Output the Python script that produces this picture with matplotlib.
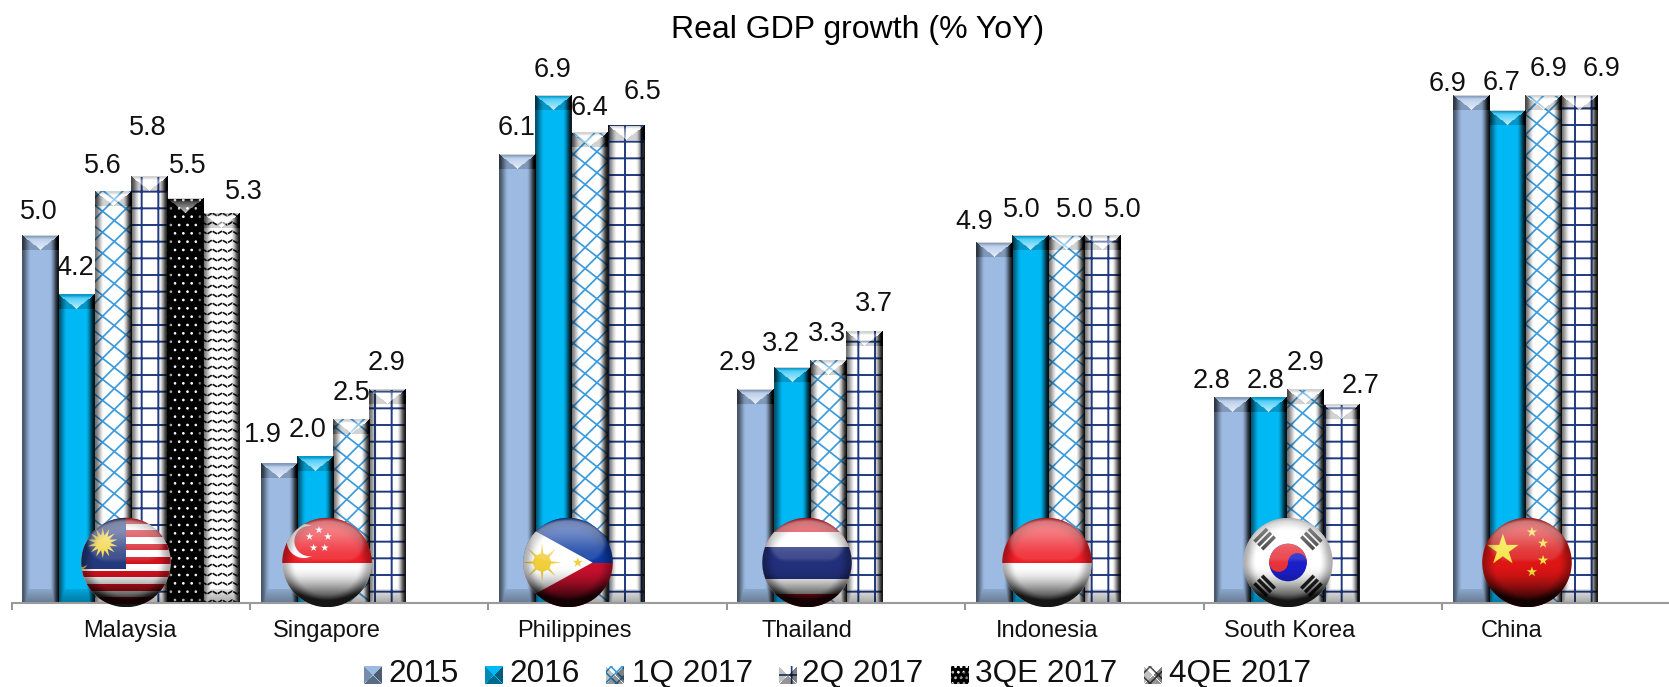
import numpy as np
import matplotlib
matplotlib.use('Agg')
import matplotlib.pyplot as plt
from matplotlib.collections import LineCollection
from matplotlib.patches import Circle, Polygon, Rectangle, Wedge
from matplotlib.transforms import IdentityTransform

plt.rcParams['font.family'] = ['Liberation Sans', 'DejaVu Sans']
nan = float('nan')

categories = ['Malaysia', 'Singapore', 'Philippines', 'Thailand', 'Indonesia', 'South Korea', 'China']
periods = ['2015', '2016', '1Q 2017', '2Q 2017', '3QE 2017', '4QE 2017']
gdp_2015 = [5.0, 1.9, 6.1, 2.9, 4.9, 2.8, 6.9]
gdp_2016 = [4.2, 2.0, 6.9, 3.2, 5.0, 2.8, 6.7]
gdp_1q17 = [5.6, 2.5, 6.4, 3.3, 5.0, 2.9, 6.9]
gdp_2q17 = [5.8, 2.9, 6.5, 3.7, 5.0, 2.7, 6.9]
gdp_3q17 = [5.5, nan, nan, nan, nan, nan, nan]
gdp_4q17 = [5.3, nan, nan, nan, nan, nan, nan]
series = [gdp_2015, gdp_2016, gdp_1q17, gdp_2q17, gdp_3q17, gdp_4q17]

# hand placed value labels, pixel centres, one list per series
labels_2015 = [(39, 212), (263, 435), (517, 128), (737, 363), (974, 222), (1211, 381), (1447, 84)]
labels_2016 = [(75, 268), (307, 430), (552, 70), (781, 344), (1022, 210), (1265, 381), (1502, 83)]
labels_1q17 = [(103, 166), (351, 393), (589, 108), (827, 334), (1075, 210), (1305, 363), (1548, 69)]
labels_2q17 = [(148, 128), (386, 363), (642, 92), (874, 304), (1123, 210), (1361, 386), (1601, 69)]
labels_3q17 = [(188, 166)]
labels_4q17 = [(244, 192)]
label_pos = [labels_2015, labels_2016, labels_1q17, labels_2q17, labels_3q17, labels_4q17]

cat_label_x = [130, 327, 574, 807, 1047, 1290, 1512]
flag_x = [126, 327, 568, 807, 1047, 1288, 1527]
legend_swatch_x = [373, 494, 615, 788, 960, 1153]
legend_text_x = [388, 509, 632, 802, 975, 1169]

W, H = 1669, 687
base_y = 603
unit_h = 73.5
step = 238.4
x_left = 11.6
bar_w = 36.2 / step

base_colors = ['#9cbae2', '#00b8f4', 'white', 'white', 'black', 'white']
BLUE = '#3d9bdc'
NAVY = '#1f3a80'


def smooth(a, b, x):
    t = np.clip((x - a) / (b - a), 0, 1)
    return t * t * (3 - 2 * t)


def bevel_image(w, h):
    # black/white overlay giving the bar its chiselled look
    u, v = np.meshgrid(np.arange(w) + 0.5, np.arange(h) + 0.5)
    mid = w / 2
    left = 0.55 * (1 - smooth(0, 9, u))
    right = 0.9 * (1 - smooth(0, 9, w - u))
    rgb = np.zeros((h, w))
    alpha = left + right

    # bottom facet, a trapezoid narrowing upwards
    bot = h - v
    bottom = (bot < 14) & (np.abs(u - mid) < mid - bot * 0.55)
    alpha = np.where(bottom, np.maximum(alpha, 0.1 + 0.25 * (1 - bot / 14)), alpha)

    # top facet, a V from the two corners
    tip = 15 * (1 - np.abs(u - mid) / mid)
    top = v < tip
    t = np.where(top, v / 15, 0)
    alpha = np.where((v < 15) & ~top, alpha + 0.18, alpha)
    alpha = np.where(top, 0.16 + 0.6 * t, alpha)
    rgb = np.where(top, smooth(0.0, 0.3, t), rgb)

    img = np.zeros((h, w, 4))
    img[..., 0] = img[..., 1] = img[..., 2] = rgb
    img[..., 3] = np.clip(alpha, 0, 1)
    return img


fig = plt.figure(figsize=(W / 100, H / 100), dpi=100)
ax = fig.add_axes([x_left / W, 1 - base_y / H, 1 - x_left / W, (base_y - 60) / H])
ax.set_xlim(0, (W - x_left) / step)
ax.set_ylim(0, (base_y - 60) / unit_h)
ax.autoscale(False)

for s, vals in enumerate(series):
    plt.rcParams['hatch.linewidth'] = 1.4 if s == 3 else 0.7
    for i, val in enumerate(vals):
        if np.isnan(val):
            continue
        x0 = i + 0.5 + (s - 3) * bar_w
        hatch = None
        edge = base_colors[s]
        if s == 3:
            hatch, edge = '+', NAVY
        if s == 4:
            hatch, edge = '..', 'white'
        bar = ax.bar(x0, val, bar_w, align='edge', color=base_colors[s], edgecolor=edge,
                     linewidth=0, hatch=hatch, zorder=2)[0]
        px0, py0 = ax.transData.transform((x0, 0))
        px1, py1 = ax.transData.transform((x0 + bar_w, val))
        if s == 2:
            # diagonal lattice
            segs = []
            for k in np.arange(-py1, py1 + px1, 21.0):
                segs.append([(px0 - 5, k - px0 + 5), (px1 + 5, k - px1 + 5)])
            for k in np.arange(-px1, py1, 21.0):
                segs.append([(px0 - 5, k + px0 - 5), (px1 + 5, k + px1 + 5)])
            lc = LineCollection(segs, colors=BLUE, linewidths=1.25, transform=IdentityTransform(), zorder=2.1)
            ax.add_collection(lc, autolim=False)
            lc.set_clip_path(bar)
        if s == 5:
            # black zigzag rows
            segs = []
            for yy in np.arange(py0, py1, 9.0):
                xs = np.arange(px0 - 6, px1 + 6, 5.0)
                ys = yy + 3.0 * (np.arange(len(xs)) % 2)
                segs.append(np.column_stack([xs, ys]))
            lc = LineCollection(segs, colors='#111111', linewidths=1.2, transform=IdentityTransform(),
                                linestyles=(0, (3, 0.6)), zorder=2.1)
            ax.add_collection(lc, autolim=False)
            lc.set_clip_path(bar)
        ax.imshow(bevel_image(36, int(round(val * unit_h))), extent=(x0, x0 + bar_w, 0, val),
                  aspect='auto', interpolation='bilinear', zorder=2.2)

ax.set_xlim(0, (W - x_left) / step)
ax.set_ylim(0, (base_y - 60) / unit_h)
ax.set_xticks(range(7))
ax.set_xticklabels([])
ax.set_yticks([])
ax.tick_params(axis='x', length=5, width=1.3, color='#8c8c8c')
for side in ['top', 'left', 'right']:
    ax.spines[side].set_visible(False)
ax.spines['bottom'].set_color('#9a9a9a')
ax.spines['bottom'].set_linewidth(1.5)
ax.patch.set_alpha(0)

# pixel space layer for flags, text and legend
over = fig.add_axes([0, 0, 1, 1])
over.set_xlim(0, W)
over.set_ylim(H, 0)
over.axis('off')
over.patch.set_alpha(0)

over.text(858, 30, 'Real GDP growth (% YoY)', ha='center', va='center', fontsize=23)
for s, vals in enumerate(series):
    for (px, py), val in zip(label_pos[s], [v for v in vals if not np.isnan(v)]):
        over.text(px, py, f'{val:.1f}', ha='center', va='center', fontsize=19.5, color='#111111')
for name, px in zip(categories, cat_label_x):
    over.text(px, 631, name, ha='center', va='center', fontsize=17, color='#111111')


def star(cx, cy, r, n=5, inner=0.382, rot=-90):
    ang = np.radians(rot + np.arange(2 * n) * 180 / n)
    rad = np.where(np.arange(2 * n) % 2 == 0, r, r * inner)
    return np.column_stack([cx + rad * np.cos(ang), cy + rad * np.sin(ang)])


def ball(cx, cy=562.5, r=44.7):
    clip = Circle((cx, cy), r, transform=over.transData)

    def add(patch):
        patch.set_linewidth(0)
        patch.set_zorder(5)
        over.add_patch(patch)
        patch.set_clip_path(clip)

    def rect(x0, y0, x1, y1, c):
        add(Rectangle((cx + x0 * r, cy + y0 * r), (x1 - x0) * r, (y1 - y0) * r, facecolor=c))

    def poly(pts, c):
        pts = np.asarray(pts)
        add(Polygon(np.column_stack([cx + pts[:, 0] * r, cy + pts[:, 1] * r]), closed=True, facecolor=c))

    def disc(x, y, rad, c):
        add(Circle((cx + x * r, cy + y * r), rad * r, facecolor=c))

    return rect, poly, disc, add, clip


def shade(cx, clip, cy=562.5, r=44.7):
    n = 120
    yy, xx = np.mgrid[-1:1:n * 1j, -1:1:n * 1j]
    rr = np.hypot(xx, yy)
    dark = np.zeros((n, n, 4))
    dark[..., 3] = np.clip(0.8 * smooth(0.0, 1.0, yy) ** 1.4 + 0.32 * smooth(0.7, 1.0, rr), 0, 0.92)
    gloss = np.zeros((n, n, 4))
    gloss[..., :3] = 1
    ell = np.hypot(xx / 0.92, (yy + 0.42) / 0.58)
    gloss[..., 3] = (0.14 + 0.3 * (1 - smooth(-0.8, -0.1, yy))) * (1 - smooth(0.82, 1.0, ell)) * (1 - smooth(-0.1, 0.03, yy))
    ext = (cx - r, cx + r, cy + r, cy - r)
    for img, z in [(dark, 6), (gloss, 7)]:
        im = over.imshow(img, extent=ext, aspect='auto', interpolation='bilinear', zorder=z)
        im.set_clip_path(clip)


# Malaysia
rect, poly, disc, add, clip = ball(flag_x[0])
rect(-1, -1, 1, 1, 'white')
for k in range(8):
    rect(-1, -1.0 + k * 0.3 - 0.02, 1, -1.0 + k * 0.3 + 0.13, '#d2121f')
rect(-1, -1, 0, 0.15, '#24387c')
poly(star(0, 0, 0.34, n=14, inner=0.5) + [-0.52, -0.44], '#f2d43f')
disc(-0.52, -0.44, 0.13, '#f2d43f')
disc(-1.05, -0.03, 0.2, '#f2d43f')
disc(-1.0, -0.1, 0.2, '#24387c')
shade(flag_x[0], clip)

# Singapore
rect, poly, disc, add, clip = ball(flag_x[1])
rect(-1, -1, 1, 0, '#ee1c25')
rect(-1, 0, 1, 1, 'white')
disc(-0.52, -0.48, 0.38, 'white')
disc(-0.39, -0.48, 0.34, '#ee1c25')
for sx, sy in [(-0.18, -0.73), (0.02, -0.58), (-0.39, -0.58), (-0.3, -0.33), (-0.05, -0.33)]:
    poly(star(sx, sy, 0.09), 'white')
shade(flag_x[1], clip)

# Philippines
rect, poly, disc, add, clip = ball(flag_x[2])
rect(-1, -1, 1, 0, '#0a38a0')
rect(-1, 0, 1, 1, '#c8102e')
poly([(0.55, 0), (-1.2, -0.96), (-1.2, 0.96)], 'white')
poly(star(-0.58, 0, 0.43, n=8, inner=0.25, rot=0), '#f1cf3c')
disc(-0.58, 0, 0.2, '#f1cf3c')
poly(star(0.22, 0, 0.12), '#f1cf3c')
shade(flag_x[2], clip)

# Thailand
rect, poly, disc, add, clip = ball(flag_x[3])
rect(-1, -1, 1, 1, '#d6101c')
rect(-1, -0.69, 1, 0.7, 'white')
rect(-1, -0.34, 1, 0.36, '#22307c')
shade(flag_x[3], clip)

# Indonesia
rect, poly, disc, add, clip = ball(flag_x[4])
rect(-1, -1, 1, 0, '#ee1c25')
rect(-1, 0, 1, 1, 'white')
shade(flag_x[4], clip)

# South Korea
rect, poly, disc, add, clip = ball(flag_x[5])
rect(-1, -1, 1, 1, 'white')
disc(0, 0, 0.42, '#1a1fc8')
add(Wedge((flag_x[5], 562.5), 0.42 * 44.7, 180, 360, facecolor='#e8323a'))
disc(-0.21, 0, 0.21, '#e8323a')
disc(0.21, 0, 0.21, '#1a1fc8')
for ang in [45, 135, 225, 315]:
    ca, sa = np.cos(np.radians(ang)), np.sin(np.radians(ang))
    for d in [0.62, 0.74, 0.86]:
        mx, my = d * ca, d * sa
        px, py = -sa * 0.2, ca * 0.2
        tx, ty = ca * 0.04, sa * 0.04
        poly([(mx + px + tx, my + py + ty), (mx - px + tx, my - py + ty),
              (mx - px - tx, my - py - ty), (mx + px - tx, my + py - ty)], '#222222')
shade(flag_x[5], clip)

# China
rect, poly, disc, add, clip = ball(flag_x[6])
rect(-1, -1, 1, 1, '#dd1515')
poly(star(-0.54, -0.28, 0.37), '#f3e437')
for sx, sy in [(0.11, -0.68), (0.36, -0.43), (0.36, -0.05), (0.11, 0.21)]:
    poly(star(sx, sy, 0.12), '#f3e437')
shade(flag_x[6], clip)

# legend
legend_y = 675
text_y = 674
half = 9
plt.rcParams['hatch.linewidth'] = 1.2
for s, name in enumerate(periods):
    sx = legend_swatch_x[s]
    hatch = {2: 'xxx', 3: '+', 4: '...', 5: 'xx'}.get(s)
    edge = {2: BLUE, 3: NAVY, 4: 'white', 5: '#555555'}.get(s, base_colors[s])
    over.add_patch(Rectangle((sx - half, legend_y - half), 2 * half, 2 * half, facecolor=base_colors[s],
                             edgecolor=edge, linewidth=0, hatch=hatch, zorder=3))
    v, u = np.mgrid[-1:1:18j, -1:1:18j]
    img = np.zeros((18, 18, 4))
    a = np.where(u > np.abs(v), 0.5, np.where(v > np.abs(u), 0.42, np.where(u < -np.abs(v), 0.25, 0.0)))
    img[..., 3] = a
    over.imshow(img, extent=(sx - half, sx + half, legend_y + half, legend_y - half), aspect='auto',
                interpolation='bilinear', zorder=4)
    over.text(legend_text_x[s], text_y, name, ha='left', va='center', fontsize=22.7, color='#111111')

over.set_xlim(0, W)
over.set_ylim(H, 0)

fig.savefig('out.png', dpi=100)
